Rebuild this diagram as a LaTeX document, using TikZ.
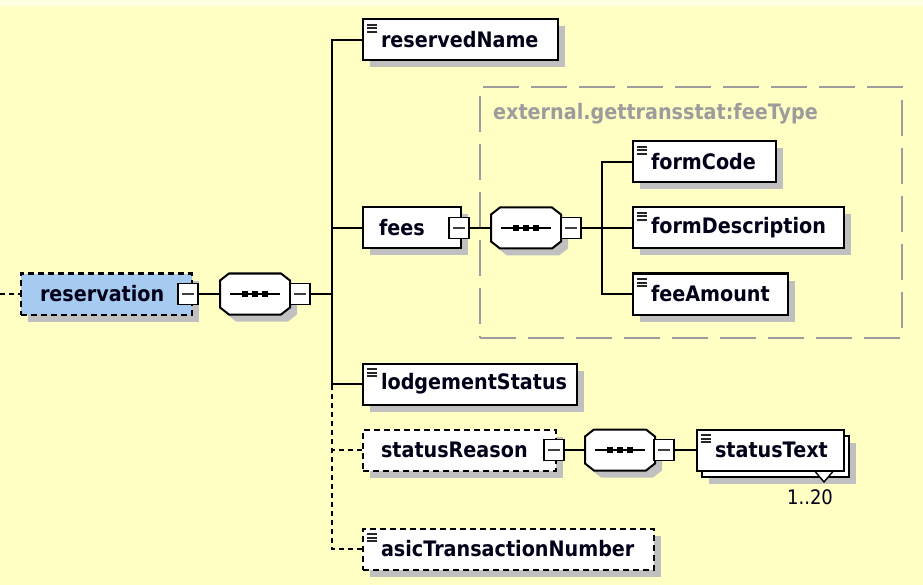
\documentclass[tikz,border=0pt]{standalone}
\usepackage{fontspec}
\setmainfont[FakeStretch=0.9]{DejaVu Sans}
\usetikzlibrary{shadows,calc}
\definecolor{bg}{HTML}{FFFFC4}
\definecolor{bgtop}{HTML}{FFFFE4}
\definecolor{shadowc}{HTML}{C0C0C0}
\definecolor{resblue}{HTML}{A6CAF0}
\definecolor{grpgray}{HTML}{9C9C9C}
\definecolor{txt}{HTML}{000018}
\newcommand{\seqdraw}[1]{%
  \begin{scope}[shift={(#1.center)}]
    \fill[shadowc] (-19,-13.5) -- (33,-13.5) -- (42,-6.5) -- (42,20.5) -- (33,27.5) -- (-19,27.5) -- (-28,20.5) -- (-28,-6.5) -- cycle;
    \draw[line width=2pt, fill=white] (-26,-20.5) -- (26,-20.5) -- (35,-13.5) -- (35,13.5) -- (26,20.5) -- (-26,20.5) -- (-35,13.5) -- (-35,-13.5) -- cycle;
    \draw[line width=2pt] (-25,0) -- (25,0);
    \foreach \d in {-10,0,10} \fill (\d-3.2,-3.2) rectangle (\d+3.2,3.2);
  \end{scope}}
\tikzset{
  boxbase/.style={draw=black, line width=2pt, fill=white, inner xsep=0pt, inner ysep=0pt,
    minimum height=41pt, align=left, font=\fontsize{21.3}{24}\selectfont\bfseries, text=txt, anchor=west},
  shad/.style={drop shadow={shadow xshift=7pt, shadow yshift=-7pt, fill=shadowc, opacity=1}},
  icon/.style={path picture={
      \foreach \k in {5.5,9,12.5}{\draw[solid, line width=2pt, draw=black!85]
        ([xshift=4pt,yshift=-\k*1pt]path picture bounding box.north west) -- ++(10pt,0pt);}}},
  elem/.style={boxbase, shad, icon},
  cplx/.style={boxbase, shad},
  opt/.style={dash pattern=on 6pt off 4pt},
  minusbox/.style={draw=black, fill=white, line width=1.8pt, minimum width=20pt, minimum height=21pt, inner sep=0pt,
    path picture={\draw[solid, line width=1.4pt, black!75] ([xshift=4pt]path picture bounding box.west) -- ([xshift=-4pt]path picture bounding box.east);}},
  seqnode/.style={minimum width=70pt, minimum height=41pt, inner sep=0pt},
  conn/.style={draw=black, line width=2pt},
  dconn/.style={draw=black, line width=2pt, dash pattern=on 5pt off 4pt},
  grp/.style={draw=grpgray, line width=2.2pt, dash pattern=on 36pt off 12pt, inner sep=0pt},
}
\begin{document}
\begin{tikzpicture}[x=1pt, y=-1pt]
\useasboundingbox (0,0) rectangle (923,585);
\fill[bg] (0,0) rectangle (923,585);
\fill[bgtop] (0,0) rectangle (923,6);

% group box for external type
\node[grp, minimum width=422pt, minimum height=251pt] (feeTypeGroup) at (691,212.5) {};
\node[font=\fontsize{21.3}{24}\selectfont\bfseries, text=grpgray, anchor=west, inner sep=0pt] (feeTypeLabel) at (493,114) {external.gettransstat:feeType};

% root
\node[cplx, opt, fill=resblue, text width=171pt] (reservation) at (20,294) {\hspace*{19pt}reservation};
\node[minusbox] (resMin) at (188,294) {};
\node[seqnode] (seq1) at (255,294) {};
\seqdraw{seq1}
\node[minusbox] (seq1Min) at (300,294) {};

% children
\node[elem, text width=195pt] (reservedName) at (362,40) {\hspace*{18pt}reservedName};
\node[cplx, text width=98pt] (fees) at (362,228) {\hspace*{16pt}fees};
\node[minusbox] (feesMin) at (459,228) {};
\node[seqnode] (seq2) at (526,228) {};
\seqdraw{seq2}
\node[minusbox] (seq2Min) at (571,228) {};
\node[elem, text width=143pt] (formCode) at (632,162) {\hspace*{18pt}formCode};
\node[elem, text width=211pt] (formDescription) at (632,228) {\hspace*{18pt}formDescription};
\node[elem, text width=155pt] (feeAmount) at (632,294) {\hspace*{18pt}feeAmount};

\node[elem, text width=214pt] (lodgementStatus) at (362,384) {\hspace*{18pt}lodgementStatus};
\node[cplx, opt, text width=193pt] (statusReason) at (362,450) {\hspace*{18pt}statusReason};
\node[minusbox] (srMin) at (554,450) {};
\node[seqnode] (seq3) at (620,450) {};
\seqdraw{seq3}
\node[minusbox] (seq3Min) at (664,450) {};
\node[cplx, text width=147pt] (statusTextBack) at (701,456) {};
\draw[line width=1.4pt, fill=white] (813,469) -- (824,482) -- (835,469);
\node[boxbase, icon, text width=147pt] (statusText) at (696,450) {\hspace*{18pt}statusText};
\node[font=\fontsize{20}{22}\selectfont, text=txt, inner sep=0pt] (mult) at (810,497) {1..20};

\node[elem, opt, text width=291pt] (asicTransactionNumber) at (362,549) {\hspace*{18pt}asicTransactionNumber};

% connectors
\coordinate (lead) at (0,294);
\coordinate (trunk) at (332,294);
\coordinate (trunkTwo) at (602,228);
\draw[dconn] (lead) -- (reservation.west);
\draw[conn] (resMin.east) -- (seq1.west);
\draw[conn] (seq1Min.east) -- (trunk);
\draw[conn] (reservedName.west) -| (trunk);
\draw[conn] (lodgementStatus.west) -| (trunk);
\draw[conn] (fees.west) -- (fees.west -| trunk);
\draw[dconn] (asicTransactionNumber.west) -| (trunk |- lodgementStatus.west);
\draw[dconn] (statusReason.west) -- (statusReason.west -| trunk);
\draw[conn] (feesMin.east) -- (seq2.west);
\draw[conn] (seq2Min.east) -- (trunkTwo);
\draw[conn] (formCode.west) -| (trunkTwo);
\draw[conn] (feeAmount.west) -| (trunkTwo);
\draw[conn] (formDescription.west) -- (formDescription.west -| trunkTwo);
\draw[conn] (srMin.east) -- (seq3.west);
\draw[conn] (seq3Min.east) -- (statusText.west);
\end{tikzpicture}
\end{document}
